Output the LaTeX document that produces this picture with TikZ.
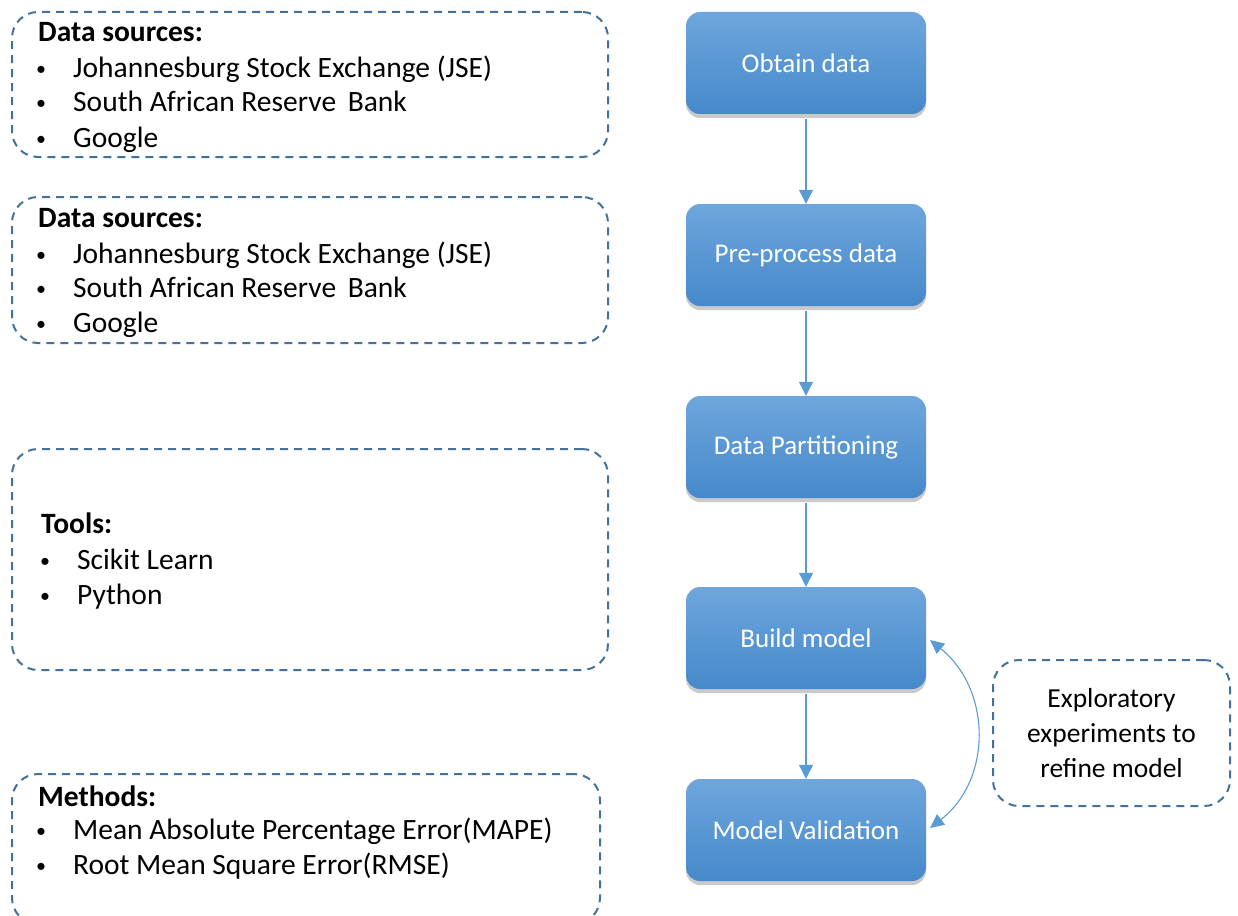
\documentclass[tikz,border=0pt]{standalone}
\usepackage{fontspec}
\setmainfont{Carlito}
\usetikzlibrary{arrows.meta,shadows,positioning}
\definecolor{dashc}{HTML}{41719C}
\definecolor{btop}{HTML}{6EA6DC}
\definecolor{bbot}{HTML}{4689CB}
\definecolor{arrc}{HTML}{5B9BD5}
\begin{document}
\begin{tikzpicture}[x=1pt,y=-1pt,
  stepbox/.style={rounded corners=14pt, top color=btop, bottom color=bbot, draw=none,
    minimum width=240pt, minimum height=102pt, text=white, font=\fontsize{27}{32}\selectfont,
    drop shadow={shadow xshift=0pt, shadow yshift=-4pt, opacity=0.35, fill=black!60}},
  infobox/.style={draw=dashc, line width=2pt, dash pattern=on 8pt off 6pt, rounded corners=26pt},
  flow/.style={draw=arrc, line width=1.1pt, shorten <=5pt, -{Triangle[length=14pt,width=14pt]}},
  txt/.style={anchor=base west, font=\fontsize{29.5}{34}\selectfont, inner sep=0pt},
  ttl/.style={anchor=base west, font=\bfseries\fontsize{29.5}{34}\selectfont, inner sep=0pt},
  bul/.style={anchor=base, font=\fontsize{20}{24}\selectfont, inner sep=0pt}]
\useasboundingbox (0,0) rectangle (1238,915);

% flow boxes
\node[stepbox] (s1) at (806,63) {Obtain data};
\node[stepbox] (s2) at (806,255) {Pre-process data};
\node[stepbox] (s3) at (806,447) {Data Partitioning};
\node[stepbox] (s4) at (806,638) {Build model};
\node[stepbox] (s5) at (806,830) {Model Validation};

\draw[flow] (s1) -- (s2);
\draw[flow] (s2) -- (s3);
\draw[flow] (s3) -- (s4);
\draw[flow] (s4) -- (s5);

% curved feedback arrow
\coordinate (c1) at (930,640);
\coordinate (c2) at (930,828);
\draw[draw=arrc, line width=1.1pt, {Triangle[length=14pt,width=13pt]}-{Triangle[length=14pt,width=13pt]}]
  (c1) .. controls (992,690) and (992,780) .. (c2);

% dashed info boxes
\node[infobox, minimum width=596pt, minimum height=145pt] (b1) at (310,84.5) {};
\node[ttl] (t1) at (38,42) {Data sources:};
\node[bul] (u11) at (41,76) {•};
\node[txt] (l11) at (73,78) {Johannesburg Stock Exchange (JSE)};
\node[bul] (u12) at (41,110) {•};
\node[txt] (l12) at (73,112) {South African Reserve\ \,Bank};
\node[bul] (u13) at (41,145) {•};
\node[txt] (l13) at (73,147) {Google};

\node[infobox, minimum width=596pt, minimum height=146pt] (b2) at (310,270) {};
\node[ttl] (t2) at (38,227) {Data sources:};
\node[bul] (u21) at (41,261) {•};
\node[txt] (l21) at (73,263) {Johannesburg Stock Exchange (JSE)};
\node[bul] (u22) at (41,295) {•};
\node[txt] (l22) at (73,297) {South African Reserve\ \,Bank};
\node[bul] (u23) at (41,330) {•};
\node[txt] (l23) at (73,332) {Google};

\node[infobox, minimum width=596pt, minimum height=221pt] (b3) at (310,559.5) {};
\node[ttl] (t3) at (41,533) {Tools:};
\node[bul] (u31) at (45,567) {•};
\node[txt] (l31) at (77,569) {Scikit Learn};
\node[bul] (u32) at (45,602) {•};
\node[txt] (l32) at (77,604) {Python};

\node[infobox, minimum width=588pt, minimum height=150pt] (b4) at (306,849) {};
\node[ttl] (t4) at (38,806) {Methods:};
\node[bul] (u41) at (41,837) {•};
\node[txt] (l41) at (73,839) {Mean Absolute Percentage Error(MAPE)};
\node[bul] (u42) at (41,872) {•};
\node[txt] (l42) at (73,874) {Root Mean Square Error(RMSE)};

\node[infobox, minimum width=237pt, minimum height=146pt, align=center,
  font=\fontsize{27.5}{35}\selectfont] (b5) at (1111.5,733) {Exploratory\\experiments to\\refine model};
\end{tikzpicture}
\end{document}
